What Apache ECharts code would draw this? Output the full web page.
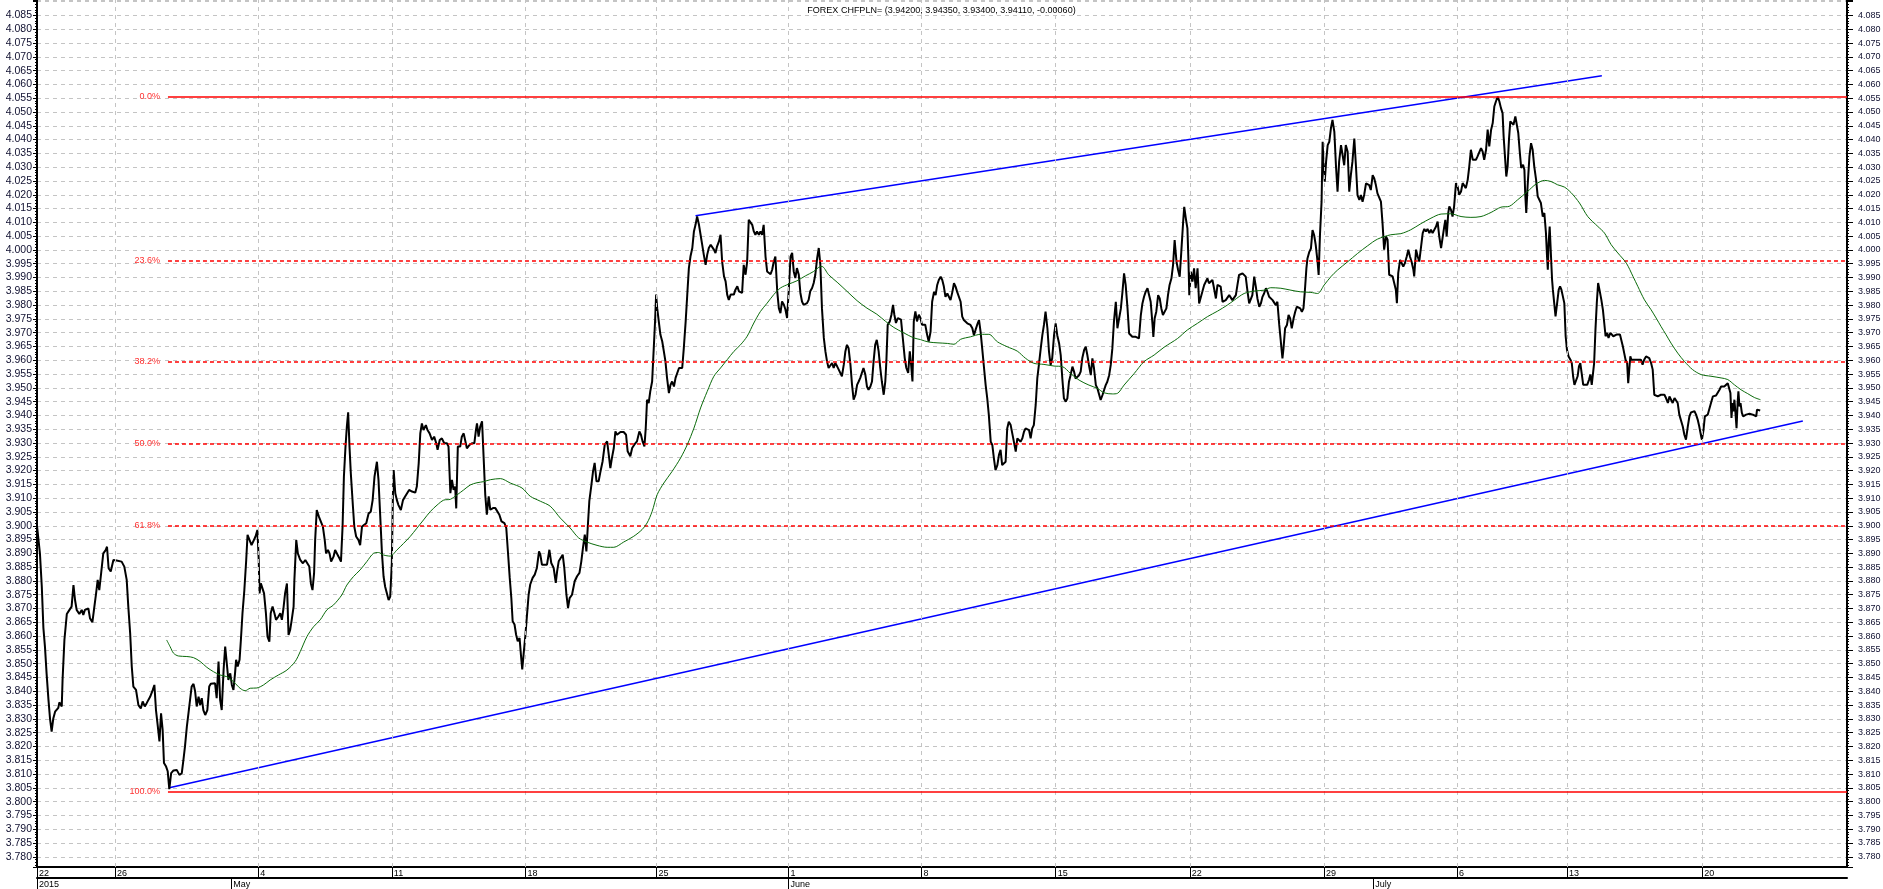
<!DOCTYPE html>
<html>
<head>
<meta charset="utf-8">
<script src="https://cdn.jsdelivr.net/npm/echarts@6/dist/echarts.min.js"></script>
<style>
html,body{margin:0;padding:0;background:#fff;}
#chart{width:1883px;height:889px;}
</style>
</head>
<body>
<div id="chart"></div>
<script>
// ---------- DATA (x = trading-day position, y = CHF/PLN) ----------
const TITLE = 'FOREX CHFPLN= (3.94200, 3.94350, 3.93400, 3.94110, -0.00060)';
const X_MAX = 68;
const Y_MIN = 3.7763, Y_MAX = 4.0906, Y_STEP = 0.005;
const dayTickPos = [0, 2.93, 8.31, 13.33, 18.35, 23.27, 28.23, 33.23, 38.27, 43.31, 48.35, 53.35, 57.48, 62.56];
const dayTickLabels = ['22','26','4','11','18','25','1','8','15','22','29','6','13','20'];
const monthPos = [0, 7.3, 28.23, 50.2];
const monthLabels = ['2015','May','June','July'];

const price = [
[0.00,3.9000],[0.11,3.8900],[0.18,3.8780],[0.24,3.8630],[0.30,3.8560],[0.36,3.8465],[0.43,3.8370],[0.49,3.8300],[0.55,3.8254],[0.61,3.8300],[0.68,3.8326],[0.80,3.8340],[0.84,3.8360],[0.93,3.8345],[0.96,3.8440],[1.03,3.8586],[1.12,3.8680],[1.22,3.8695],[1.30,3.8707],[1.37,3.8785],[1.43,3.8730],[1.49,3.8695],[1.59,3.8680],[1.68,3.8695],[1.74,3.8677],[1.80,3.8695],[1.93,3.8700],[1.99,3.8665],[2.08,3.8650],[2.14,3.8695],[2.22,3.8755],[2.28,3.8804],[2.34,3.8767],[2.41,3.8828],[2.49,3.8900],[2.58,3.8912],[2.63,3.8924],[2.69,3.8846],[2.77,3.8834],[2.82,3.8840],[2.87,3.8876],[2.99,3.8874],[3.18,3.8870],[3.28,3.8852],[3.37,3.8804],[3.43,3.8707],[3.50,3.8610],[3.56,3.8490],[3.62,3.8417],[3.72,3.8405],[3.81,3.8350],[3.90,3.8338],[3.97,3.8363],[4.05,3.8345],[4.12,3.8357],[4.25,3.8380],[4.35,3.8405],[4.41,3.8423],[4.47,3.8332],[4.54,3.8272],[4.60,3.8218],[4.66,3.8320],[4.72,3.8260],[4.77,3.8140],[4.85,3.8127],[4.91,3.8110],[4.97,3.8045],[5.04,3.8103],[5.13,3.8113],[5.25,3.8115],[5.35,3.8097],[5.44,3.8103],[5.50,3.8150],[5.56,3.8200],[5.63,3.8272],[5.69,3.8320],[5.75,3.8369],[5.81,3.8417],[5.88,3.8427],[5.94,3.8400],[6.00,3.8345],[6.07,3.8380],[6.13,3.8350],[6.19,3.8375],[6.25,3.8332],[6.32,3.8314],[6.40,3.8332],[6.47,3.8417],[6.53,3.8427],[6.69,3.8429],[6.75,3.8375],[6.82,3.8508],[6.88,3.8369],[6.94,3.8332],[7.01,3.8477],[7.07,3.8562],[7.13,3.8568],[7.19,3.8441],[7.26,3.8465],[7.32,3.8423],[7.38,3.8405],[7.44,3.8465],[7.48,3.8514],[7.54,3.8490],[7.61,3.8514],[7.66,3.8586],[7.72,3.8683],[7.79,3.8767],[7.86,3.8876],[7.91,3.8967],[7.98,3.8967],[8.06,3.8930],[8.13,3.8936],[8.21,3.8961],[8.28,3.8985],[8.33,3.8876],[8.36,3.8755],[8.41,3.8791],[8.47,3.8785],[8.53,3.8755],[8.60,3.8683],[8.66,3.8598],[8.73,3.8580],[8.78,3.8683],[8.85,3.8707],[8.92,3.8683],[8.98,3.8659],[9.07,3.8671],[9.14,3.8683],[9.20,3.8659],[9.26,3.8701],[9.32,3.8755],[9.39,3.8791],[9.45,3.8604],[9.51,3.8622],[9.57,3.8659],[9.64,3.8707],[9.67,3.8804],[9.74,3.8948],[9.80,3.8900],[9.89,3.8876],[9.99,3.8864],[10.08,3.8876],[10.14,3.8870],[10.23,3.8852],[10.29,3.8791],[10.35,3.8767],[10.41,3.8828],[10.45,3.8948],[10.51,3.9057],[10.59,3.9033],[10.66,3.9033],[10.74,3.8997],[10.81,3.8948],[10.86,3.8900],[10.93,3.8912],[10.99,3.8900],[11.05,3.8870],[11.14,3.8888],[11.20,3.8912],[11.27,3.8918],[11.33,3.8888],[11.42,3.8870],[11.48,3.8997],[11.53,3.9178],[11.59,3.9287],[11.64,3.9359],[11.69,3.9411],[11.74,3.9287],[11.79,3.9190],[11.87,3.9069],[11.92,3.8997],[11.99,3.8961],[12.08,3.8948],[12.14,3.8930],[12.21,3.8997],[12.27,3.8997],[12.37,3.9009],[12.46,3.9045],[12.54,3.9051],[12.61,3.9093],[12.68,3.9178],[12.77,3.9232],[12.83,3.9166],[12.89,3.9045],[12.96,3.8900],[13.02,3.8816],[13.08,3.8779],[13.15,3.8773],[13.21,3.8731],[13.27,3.8743],[13.33,3.8864],[13.37,3.9106],[13.40,3.9202],[13.46,3.9118],[13.52,3.9093],[13.58,3.9075],[13.67,3.9057],[13.75,3.9093],[13.83,3.9106],[13.90,3.9112],[13.98,3.9130],[14.09,3.9124],[14.21,3.9120],[14.27,3.9142],[14.34,3.9226],[14.40,3.9335],[14.46,3.9371],[14.52,3.9347],[14.61,3.9365],[14.67,3.9347],[14.75,3.9335],[14.84,3.9311],[14.92,3.9323],[15.00,3.9299],[15.05,3.9275],[15.13,3.9311],[15.21,3.9317],[15.30,3.9299],[15.40,3.9299],[15.46,3.9287],[15.53,3.9118],[15.59,3.9166],[15.65,3.9130],[15.71,3.9142],[15.75,3.9063],[15.81,3.9287],[15.90,3.9287],[15.96,3.9323],[16.03,3.9335],[16.09,3.9335],[16.15,3.9281],[16.25,3.9293],[16.34,3.9299],[16.43,3.9299],[16.49,3.9347],[16.53,3.9371],[16.59,3.9323],[16.65,3.9359],
[16.72,3.9379],[16.78,3.9246],[16.84,3.9113],[16.90,3.9040],[16.97,3.9107],[17.03,3.9058],[17.13,3.9064],[17.22,3.9064],[17.28,3.9064],[17.37,3.9040],[17.45,3.9016],[17.56,3.9010],[17.63,3.8992],[17.70,3.8895],[17.76,3.8811],[17.82,3.8738],[17.87,3.8654],[17.94,3.8642],[18.00,3.8605],[18.06,3.8581],[18.13,3.8593],[18.18,3.8533],[18.23,3.8479],[18.28,3.8533],[18.35,3.8605],[18.41,3.8678],[18.47,3.8750],[18.53,3.8787],[18.62,3.8811],[18.70,3.8823],[18.78,3.8847],[18.86,3.8907],[18.91,3.8895],[18.97,3.8859],[19.06,3.8859],[19.16,3.8859],[19.25,3.8913],[19.32,3.8865],[19.41,3.8847],[19.49,3.8793],[19.54,3.8835],[19.60,3.8871],[19.66,3.8877],[19.75,3.8895],[19.81,3.8847],[19.89,3.8750],[19.95,3.8702],[20.01,3.8738],[20.10,3.8750],[20.20,3.8799],[20.29,3.8817],[20.38,3.8829],[20.45,3.8871],[20.51,3.8919],[20.58,3.8968],[20.64,3.8907],[20.69,3.8992],[20.75,3.9089],[20.83,3.9149],[20.89,3.9197],[20.95,3.9228],[21.02,3.9161],[21.10,3.9161],[21.17,3.9197],[21.25,3.9234],[21.33,3.9294],[21.42,3.9306],[21.48,3.9258],[21.54,3.9209],[21.60,3.9246],[21.67,3.9282],[21.73,3.9342],[21.79,3.9330],[21.85,3.9336],[21.92,3.9340],[22.04,3.9340],[22.13,3.9330],[22.19,3.9270],[22.29,3.9252],[22.36,3.9282],[22.44,3.9294],[22.54,3.9306],[22.63,3.9342],[22.69,3.9330],[22.75,3.9306],[22.82,3.9288],[22.87,3.9354],[22.92,3.9457],[22.98,3.9445],[23.04,3.9487],[23.11,3.9523],[23.17,3.9517],[23.22,3.9741],[23.26,3.9838],[23.30,3.9789],[23.36,3.9741],[23.42,3.9693],[23.49,3.9668],[23.55,3.9632],[23.61,3.9596],[23.67,3.9536],[23.74,3.9481],[23.80,3.9511],[23.86,3.9523],[23.93,3.9505],[23.99,3.9536],[24.05,3.9542],[24.12,3.9572],[24.18,3.9578],[24.24,3.9572],[24.30,3.9644],[24.37,3.9741],[24.43,3.9838],[24.49,3.9934],[24.55,3.9976],[24.62,4.0007],[24.68,4.0067],[24.74,4.0091],[24.80,4.0121],[24.87,4.0091],[24.93,4.0055],[24.99,4.0019],[25.05,3.9983],[25.12,3.9946],[25.18,3.9983],[25.24,4.0007],[25.31,4.0019],[25.37,4.0013],[25.43,4.0001],[25.49,3.9989],[25.55,4.0013],[25.62,4.0031],[25.68,4.0055],[25.74,3.9958],[25.81,3.9904],[25.87,3.9886],[25.93,3.9838],[25.99,3.9819],[26.06,3.9838],[26.12,3.9832],[26.18,3.9838],[26.24,3.9856],[26.31,3.9868],[26.37,3.9850],[26.43,3.9856],[26.49,3.9844],[26.55,3.9946],[26.62,3.9910],[26.68,3.9958],[26.74,4.0109],[26.80,4.0103],[26.87,4.0091],[26.93,4.0067],[26.99,4.0055],[27.05,4.0067],[27.12,4.0055],[27.18,4.0067],[27.24,4.0055],[27.30,4.0091],[27.37,3.9976],[27.43,3.9922],[27.49,3.9916],[27.56,3.9912],[27.62,3.9928],[27.68,3.9958],[27.74,3.9976],[27.81,3.9850],[27.87,3.9789],[27.93,3.9771],[27.99,3.9813],[28.06,3.9801],[28.12,3.9783],[28.18,3.9753],[28.24,3.9850],[28.31,3.9976],[28.37,3.9989],[28.43,3.9922],[28.49,3.9898],[28.55,3.9934],[28.62,3.9910],[28.68,3.9844],[28.74,3.9813],[28.80,3.9801],[28.87,3.9795],[28.93,3.9807],[28.99,3.9819],[29.05,3.9850],[29.12,3.9862],[29.18,3.9880],[29.24,3.9910],[29.31,3.9970],[29.37,4.0007],[29.43,3.9946],[29.49,3.9789],[29.56,3.9681],[29.62,3.9632],[29.68,3.9596],[29.74,3.9572],[29.81,3.9578],[29.87,3.9590],[29.93,3.9572],[29.99,3.9590],[30.06,3.9578],[30.12,3.9566],[30.18,3.9572],[30.24,3.9542],[30.31,3.9584],[30.37,3.9632],[30.43,3.9656],[30.49,3.9644],[30.56,3.9584],[30.62,3.9511],[30.68,3.9457],[30.75,3.9475],[30.81,3.9511],[30.87,3.9523],[30.93,3.9536],[30.99,3.9542],[31.05,3.9572],[31.12,3.9548],[31.18,3.9505],[31.24,3.9493],[31.31,3.9505],[31.37,3.9523],[31.43,3.9596],[31.49,3.9656],[31.55,3.9674],[31.62,3.9632],[31.68,3.9572],[31.74,3.9523],[31.81,3.9475],[31.87,3.9523],[31.91,3.9596],[31.96,3.9729],[32.04,3.9741],[32.10,3.9765],[32.16,3.9801],[32.21,3.9765],[32.27,3.9735],[32.34,3.9753],[32.40,3.9747],[32.46,3.9747],[32.54,3.9668],[32.60,3.9608],[32.66,3.9572],[32.73,3.9554],[32.79,3.9632],[32.84,3.9584],[32.89,3.9523],[32.94,3.9741],[33.00,3.9777],[33.06,3.9741],[33.13,3.9765],[33.19,3.9753],[33.25,3.9729],[33.31,3.9735],[33.37,3.9729],[33.44,3.9693],[33.50,3.9668],
[33.57,3.9703],[33.63,3.9812],[33.70,3.9848],[33.76,3.9836],[33.82,3.9873],[33.88,3.9891],[33.95,3.9903],[34.01,3.9891],[34.07,3.9867],[34.13,3.9830],[34.20,3.9842],[34.26,3.9842],[34.32,3.9818],[34.39,3.9848],[34.45,3.9879],[34.51,3.9867],[34.57,3.9848],[34.64,3.9842],[34.70,3.9812],[34.76,3.9758],[34.82,3.9746],[34.89,3.9740],[34.95,3.9734],[35.01,3.9740],[35.07,3.9728],[35.14,3.9716],[35.20,3.9691],[35.26,3.9710],[35.32,3.9728],[35.39,3.9746],[35.45,3.9703],[35.51,3.9643],[35.58,3.9571],[35.64,3.9510],[35.70,3.9462],[35.76,3.9401],[35.83,3.9305],[35.89,3.9293],[35.95,3.9244],[36.01,3.9202],[36.08,3.9220],[36.14,3.9257],[36.20,3.9275],[36.26,3.9220],[36.33,3.9220],[36.39,3.9232],[36.45,3.9353],[36.51,3.9377],[36.58,3.9365],[36.64,3.9365],[36.70,3.9305],[36.77,3.9269],[36.83,3.9317],[36.89,3.9311],[36.95,3.9305],[37.02,3.9317],[37.08,3.9341],[37.14,3.9353],[37.20,3.9353],[37.27,3.9347],[37.33,3.9317],[37.39,3.9353],[37.45,3.9365],[37.52,3.9438],[37.58,3.9534],[37.64,3.9583],[37.71,3.9643],[37.77,3.9691],[37.83,3.9728],[37.89,3.9776],[37.96,3.9716],[38.02,3.9631],[38.08,3.9583],[38.14,3.9607],[38.21,3.9691],[38.27,3.9734],[38.33,3.9691],[38.40,3.9661],[38.46,3.9619],[38.52,3.9534],[38.58,3.9462],[38.65,3.9450],[38.71,3.9462],[38.77,3.9522],[38.83,3.9546],[38.90,3.9577],[38.96,3.9559],[39.02,3.9534],[39.08,3.9540],[39.15,3.9546],[39.21,3.9559],[39.27,3.9607],[39.34,3.9637],[39.40,3.9649],[39.46,3.9619],[39.52,3.9583],[39.59,3.9546],[39.65,3.9607],[39.71,3.9571],[39.78,3.9510],[39.84,3.9498],[39.90,3.9492],[39.96,3.9456],[40.03,3.9474],[40.09,3.9492],[40.15,3.9510],[40.21,3.9522],[40.28,3.9546],[40.34,3.9583],[40.40,3.9643],[40.46,3.9740],[40.53,3.9812],[40.59,3.9716],[40.65,3.9710],[40.72,3.9788],[40.78,3.9848],[40.84,3.9915],[40.90,3.9873],[40.97,3.9788],[41.03,3.9697],[41.09,3.9691],[41.15,3.9685],[41.22,3.9685],[41.28,3.9685],[41.34,3.9691],[41.40,3.9679],[41.47,3.9764],[41.53,3.9806],[41.59,3.9830],[41.65,3.9848],[41.72,3.9861],[41.78,3.9867],[41.84,3.9812],[41.91,3.9728],[41.94,3.9685],[41.99,3.9752],[42.05,3.9776],[42.12,3.9836],[42.18,3.9824],[42.24,3.9788],[42.30,3.9764],[42.37,3.9758],[42.43,3.9788],[42.49,3.9836],[42.55,3.9873],[42.62,3.9897],[42.68,3.9945],[42.74,4.0036],[42.81,3.9957],[42.87,3.9927],[42.93,3.9903],[42.99,3.9993],[43.06,4.0102],[43.10,4.0156],[43.16,4.0114],[43.22,4.0078],[43.26,3.9957],[43.29,3.9836],[43.35,3.9921],[43.41,3.9885],[43.47,3.9933],[43.53,3.9861],[43.60,3.9933],[43.66,3.9806],[43.72,3.9812],[43.78,3.9848],[43.85,3.9873],[43.91,3.9867],[43.97,3.9897],[44.03,3.9879],[44.10,3.9873],[44.16,3.9891],[44.22,3.9861],[44.29,3.9824],[44.35,3.9873],[44.41,3.9873],[44.47,3.9867],[44.54,3.9812],[44.60,3.9806],[44.66,3.9818],[44.72,3.9812],[44.79,3.9836],[44.85,3.9842],[44.91,3.9818],[44.98,3.9812],[45.04,3.9836],[45.10,3.9873],[45.16,3.9909],[45.23,3.9915],[45.29,3.9915],[45.35,3.9915],[45.41,3.9903],[45.48,3.9848],[45.54,3.9806],[45.60,3.9806],[45.66,3.9836],[45.73,3.9903],[45.79,3.9867],[45.85,3.9824],[45.92,3.9794],[45.98,3.9806],[46.04,3.9830],[46.10,3.9842],[46.17,3.9861],[46.23,3.9848],[46.29,3.9830],[46.35,3.9836],[46.42,3.9818],[46.48,3.9824],[46.54,3.9800],[46.60,3.9812],[46.67,3.9728],[46.73,3.9667],[46.79,3.9607],[46.83,3.9643],[46.89,3.9716],[46.96,3.9728],[47.02,3.9764],[47.08,3.9752],[47.14,3.9716],[47.21,3.9752],[47.27,3.9776],[47.33,3.9794],[47.40,3.9788],[47.46,3.9788],[47.52,3.9776],[47.58,3.9788],[47.63,3.9848],[47.69,3.9933],[47.73,3.9969],[47.80,3.9993],[47.86,4.0005],[47.92,4.0072],[47.98,4.0054],[48.04,4.0018],[48.11,3.9957],[48.15,3.9909],[48.20,4.0054],[48.26,4.0175],[48.30,4.0392],[48.33,4.0320],[48.38,4.0247],[48.43,4.0320],[48.49,4.0380],[48.55,4.0392],[48.61,4.0440],[48.67,4.0471],[48.74,4.0428],[48.80,4.0307],[48.86,4.0211],[48.92,4.0320],[48.99,4.0380],[49.05,4.0344],[49.11,4.0307],[49.17,4.0380],[49.24,4.0356],[49.30,4.0211],[49.36,4.0271],[49.42,4.0320],[49.49,4.0404],[49.55,4.0307],[49.61,4.0199],[49.68,4.0181],[49.74,4.0199],[49.80,4.0175],[49.86,4.0199],[49.93,4.0241],[49.99,4.0247],[50.05,4.0235],[50.11,4.0217],[50.18,4.0271],[50.24,4.0259],[50.30,4.0235],[50.36,4.0205],[50.43,4.0199],[50.49,4.0175],
[50.55,4.0097],[50.61,4.0001],[50.68,4.0049],[50.74,4.0037],[50.80,3.9910],[50.86,3.9904],[50.93,3.9904],[50.99,3.9898],[51.05,3.9856],[51.09,3.9807],[51.14,3.9916],[51.21,3.9964],[51.27,3.9958],[51.33,3.9940],[51.39,3.9952],[51.46,3.9976],[51.52,4.0001],[51.58,3.9976],[51.64,3.9958],[51.71,3.9928],[51.74,3.9904],[51.81,4.0001],[51.87,3.9976],[51.93,3.9958],[51.99,3.9964],[52.06,4.0061],[52.12,4.0076],[52.18,4.0067],[52.24,4.0076],[52.31,4.0061],[52.37,4.0073],[52.43,4.0061],[52.49,4.0067],[52.56,4.0085],[52.62,4.0103],[52.68,4.0049],[52.75,4.0007],[52.81,4.0007],[52.87,4.0085],[52.91,4.0109],[52.96,4.0049],[53.02,4.0134],[53.06,4.0158],[53.12,4.0146],[53.18,4.0121],[53.24,4.0158],[53.31,4.0242],[53.37,4.0230],[53.43,4.0200],[53.50,4.0212],[53.56,4.0242],[53.62,4.0236],[53.68,4.0224],[53.75,4.0254],[53.81,4.0303],[53.87,4.0363],[53.94,4.0327],[54.00,4.0333],[54.06,4.0327],[54.12,4.0339],[54.19,4.0333],[54.25,4.0369],[54.31,4.0357],[54.37,4.0327],[54.44,4.0363],[54.50,4.0436],[54.56,4.0375],[54.63,4.0436],[54.69,4.0460],[54.75,4.0520],[54.81,4.0538],[54.88,4.0556],[54.94,4.0538],[55.00,4.0514],[55.06,4.0496],[55.10,4.0411],[55.15,4.0339],[55.20,4.0266],[55.25,4.0303],[55.30,4.0399],[55.35,4.0466],[55.41,4.0472],[55.47,4.0454],[55.54,4.0484],[55.60,4.0490],[55.65,4.0424],[55.71,4.0351],[55.76,4.0297],[55.83,4.0309],[55.88,4.0291],[55.91,4.0206],[55.95,4.0134],[56.00,4.0230],[56.07,4.0339],[56.13,4.0387],[56.19,4.0363],[56.25,4.0303],[56.32,4.0254],[56.38,4.0194],[56.44,4.0200],[56.50,4.0170],[56.57,4.0121],[56.63,4.0134],[56.69,4.0061],[56.73,3.9976],[56.76,3.9928],[56.79,4.0025],[56.83,4.0085],[56.88,3.9976],[56.92,3.9892],[56.95,3.9856],[57.00,3.9807],[57.05,3.9759],[57.11,3.9807],[57.17,3.9856],[57.22,3.9868],[57.27,3.9856],[57.33,3.9850],[57.38,3.9807],[57.43,3.9687],[57.48,3.9638],[57.54,3.9614],[57.61,3.9602],[57.66,3.9590],[57.71,3.9542],[57.76,3.9511],[57.82,3.9511],[57.88,3.9542],[57.93,3.9578],[57.98,3.9590],[58.03,3.9554],[58.09,3.9511],[58.16,3.9511],[58.24,3.9511],[58.31,3.9530],[58.36,3.9548],[58.41,3.9511],[58.46,3.9511],[58.50,3.9590],[58.55,3.9711],[58.60,3.9807],[58.65,3.9880],[58.70,3.9856],[58.77,3.9820],[58.83,3.9783],[58.88,3.9735],[58.93,3.9687],[58.99,3.9699],[59.04,3.9681],[59.11,3.9699],[59.16,3.9699],[59.22,3.9687],[59.28,3.9681],[59.34,3.9693],[59.41,3.9699],[59.47,3.9693],[59.53,3.9699],[59.58,3.9650],[59.63,3.9626],[59.68,3.9602],[59.74,3.9590],[59.78,3.9517],[59.82,3.9566],[59.86,3.9614],[59.90,3.9602],[59.97,3.9596],[60.04,3.9602],[60.10,3.9596],[60.18,3.9602],[60.26,3.9602],[60.32,3.9584],[60.38,3.9602],[60.45,3.9614],[60.51,3.9614],[60.57,3.9608],[60.64,3.9590],[60.70,3.9566],[60.76,3.9475],[60.83,3.9472],[60.89,3.9469],[60.95,3.9469],[61.01,3.9475],[61.08,3.9469],[61.14,3.9475],[61.20,3.9463],[61.27,3.9445],[61.33,3.9469],[61.39,3.9457],[61.45,3.9445],[61.52,3.9463],[61.58,3.9463],[61.64,3.9445],[61.70,3.9403],[61.77,3.9397],[61.83,3.9360],[61.89,3.9330],[61.95,3.9312],[62.02,3.9360],[62.08,3.9397],[62.14,3.9411],[62.20,3.9418],[62.27,3.9415],[62.33,3.9403],[62.39,3.9385],[62.45,3.9360],[62.52,3.9324],[62.55,3.9312],[62.61,3.9348],[62.66,3.9397],[62.71,3.9397],[62.77,3.9403],[62.83,3.9409],[62.89,3.9445],[62.96,3.9469],[63.02,3.9469],[63.08,3.9472],[63.14,3.9475],[63.21,3.9493],[63.27,3.9505],[63.33,3.9511],[63.39,3.9505],[63.46,3.9511],[63.52,3.9517],[63.57,3.9523],[63.62,3.9481],[63.66,3.9391],[63.70,3.9445],[63.73,3.9415],[63.77,3.9457],[63.81,3.9409],[63.85,3.9354],[63.89,3.9445],[63.92,3.9487],[63.96,3.9433],[64.00,3.9445],[64.05,3.9409],[64.10,3.9397],[64.15,3.9403],[64.21,3.9403],[64.28,3.9403],[64.34,3.9406],[64.40,3.9403],[64.46,3.9403],[64.52,3.9403],[64.59,3.9397],[64.62,3.9421],[64.67,3.9424],[64.74,3.9418]
];

const movingAvg = [
[4.87,3.8586],[5.00,3.8562],[5.13,3.8538],[5.31,3.8528],[5.63,3.8526],[5.88,3.8522],[6.13,3.8508],[6.38,3.8487],[6.63,3.8471],[6.88,3.8459],[7.13,3.8453],[7.38,3.8435],[7.63,3.8411],[7.82,3.8402],[8.01,3.8411],[8.26,3.8412],[8.51,3.8423],[8.76,3.8441],[9.07,3.8459],[9.39,3.8477],[9.70,3.8508],[9.89,3.8544],[10.14,3.8598],[10.39,3.8634],[10.64,3.8659],[10.89,3.8695],[11.14,3.8713],[11.45,3.8749],[11.64,3.8785],[11.89,3.8816],[12.14,3.8840],[12.39,3.8870],[12.64,3.8900],[12.83,3.8903],[13.02,3.8894],[13.27,3.8890],[13.52,3.8912],[13.77,3.8936],[14.02,3.8961],[14.27,3.8991],[14.52,3.9021],[14.77,3.9051],[15.03,3.9075],[15.28,3.9093],[15.53,3.9096],[15.78,3.9112],[16.03,3.9130],[16.28,3.9148],[16.53,3.9156],
[16.78,3.9160],[17.03,3.9167],[17.41,3.9171],[17.78,3.9155],[18.22,3.9137],[18.53,3.9107],[18.91,3.9089],[19.28,3.9071],[19.66,3.9028],[20.03,3.8992],[20.35,3.8956],[20.66,3.8941],[21.04,3.8929],[21.42,3.8922],[21.67,3.8922],[22.04,3.8941],[22.42,3.8962],[22.73,3.8986],[22.92,3.9010],[23.11,3.9052],[23.30,3.9113],[23.55,3.9155],[23.86,3.9197],[24.18,3.9246],[24.43,3.9294],[24.68,3.9354],[24.93,3.9427],[25.18,3.9487],[25.43,3.9542],[25.68,3.9572],[25.93,3.9602],[26.18,3.9632],[26.43,3.9656],[26.68,3.9687],[26.93,3.9735],[27.18,3.9777],[27.43,3.9807],[27.68,3.9838],[27.93,3.9862],[28.24,3.9876],[28.55,3.9888],[28.87,3.9906],[29.18,3.9922],[29.37,3.9937],[29.49,3.9940],[29.74,3.9910],[30.06,3.9883],[30.43,3.9850],[30.81,3.9816],[31.18,3.9789],[31.55,3.9767],[31.88,3.9741],[32.19,3.9719],[32.57,3.9699],[32.94,3.9681],[33.19,3.9675],[33.50,3.9666],
[34.20,3.9661],[34.45,3.9658],[34.70,3.9676],[35.07,3.9685],[35.45,3.9694],[35.76,3.9694],[36.08,3.9667],[36.45,3.9649],[36.83,3.9633],[37.14,3.9607],[37.45,3.9589],[37.83,3.9585],[38.21,3.9579],[38.52,3.9577],[38.83,3.9552],[39.15,3.9528],[39.52,3.9510],[39.84,3.9498],[40.09,3.9482],[40.40,3.9478],[40.59,3.9480],[40.84,3.9510],[41.22,3.9552],[41.59,3.9595],[41.97,3.9619],[42.34,3.9647],[42.85,3.9679],[43.22,3.9710],[43.60,3.9734],[43.97,3.9758],[44.35,3.9778],[44.72,3.9800],[44.98,3.9818],[45.35,3.9842],[45.73,3.9851],[46.10,3.9854],[46.35,3.9863],[46.73,3.9861],[47.11,3.9854],[47.48,3.9848],[47.86,3.9846],[48.11,3.9842],[48.36,3.9873],[48.61,3.9903],[48.86,3.9927],[49.24,3.9957],[49.61,3.9987],[49.99,4.0015],[50.36,4.0039],
[50.86,4.0055],[51.24,4.0059],[51.61,4.0073],[51.99,4.0095],[52.37,4.0115],[52.75,4.0130],[53.12,4.0131],[53.50,4.0121],[53.87,4.0118],[54.25,4.0121],[54.63,4.0136],[55.00,4.0155],[55.31,4.0158],[55.63,4.0182],[56.00,4.0212],[56.32,4.0239],[56.63,4.0252],[56.88,4.0248],[57.13,4.0236],[57.38,4.0228],[57.63,4.0208],[57.95,4.0170],[58.26,4.0121],[58.64,4.0085],[58.89,4.0061],[59.14,4.0019],[59.39,3.9989],[59.71,3.9952],[59.96,3.9904],[60.14,3.9868],[60.39,3.9819],[60.64,3.9783],[60.83,3.9753],[61.01,3.9723],[61.20,3.9693],[61.39,3.9662],[61.64,3.9626],[61.89,3.9596],[62.20,3.9566],[62.52,3.9548],[62.89,3.9542],[63.27,3.9536],[63.52,3.9530],[63.77,3.9511],[64.02,3.9493],[64.27,3.9479],[64.52,3.9465],[64.75,3.9457]
];

const trendUpper = [[24.74, 4.0124], [58.79, 4.0631]];
const trendLower = [[4.97, 3.8050], [66.34, 3.9380]];
const fibHigh = 4.0557, fibLow = 3.8037, fibStart = 4.92;
const fibRatios = [0, 0.236, 0.382, 0.5, 0.618, 1];
const fibLabels = ['0.0%', '23.6%', '38.2%', '50.0%', '61.8%', '100.0%'];

// ---------- CHART ----------
const FONT = '"Liberation Sans", Arial, sans-serif';
const chart = echarts.init(document.getElementById('chart'), null, {renderer: 'canvas'});

function nearestLabel(v, pos, labels) {
  let best = 0, bd = Infinity;
  pos.forEach((p, i) => { const d = Math.abs(p - v); if (d < bd) { bd = d; best = i; } });
  return bd < 0.05 ? labels[best] : '';
}
// only labels on multiples of the step are shown
const yLabel = v => {
  const k = Math.round(v / Y_STEP);
  return (Math.abs(v - k * Y_STEP) > 1e-6 || v < 3.7795 || v > 4.0855) ? '' : v.toFixed(3);
};

function yAxis(position, opts) {
  return {
    type: 'value', min: Y_MIN, max: Y_MAX, position,
    splitNumber: 63, minInterval: Y_STEP, maxInterval: Y_STEP,
    axisLine: {show: true, onZero: false, lineStyle: {color: '#000', width: 2}},
    axisTick: {show: true, length: opts.tick, lineStyle: {color: '#000', width: 1}},
    minorTick: {show: true, splitNumber: 5, length: 2, lineStyle: {color: '#000', width: 1}},
    splitLine: {show: position === 'left', lineStyle: {color: '#c4c4c4', width: 1, type: [4, 4]}},
    minorSplitLine: {show: false},
    axisLabel: {show: true, formatter: yLabel, margin: opts.margin, fontSize: opts.font,
      fontFamily: FONT, color: '#101030', showMinLabel: true, showMaxLabel: true}
  };
}

const fibMarks = fibRatios.map((r, i) => {
  const lvl = fibHigh - (fibHigh - fibLow) * r;
  const solid = (r === 0 || r === 1);
  return [
    {coord: [fibStart, lvl], name: fibLabels[i],
     lineStyle: {color: '#ff0000', width: 1.5, type: solid ? 'solid' : [4, 3]}},
    {coord: [X_MAX, lvl]}
  ];
});

const option = {
  animation: false,
  backgroundColor: '#ffffff',
  title: {text: TITLE, left: 'center', top: 1,
    textStyle: {fontSize: 9, fontWeight: 'normal', color: '#000', fontFamily: FONT}},
  grid: {left: 37, right: 36, top: 0, bottom: 22, containLabel: false, outerBoundsMode: 'none'},
  xAxis: [{
    type: 'value', min: 0, max: X_MAX, position: 'bottom',
    axisLine: {show: true, onZero: false, lineStyle: {color: '#000', width: 2}},
    axisTick: {show: true, customValues: dayTickPos, length: 11, lineStyle: {color: '#000', width: 1}},
    axisLabel: {show: true, customValues: dayTickPos, align: 'left', margin: 2, padding: [0, 0, 0, 2],
      formatter: v => nearestLabel(v, dayTickPos, dayTickLabels), fontSize: 9, fontFamily: FONT, color: '#000'},
    splitLine: {show: false}
  }, {
    type: 'value', min: 0, max: X_MAX, position: 'bottom', offset: 11,
    axisLine: {show: true, onZero: false, lineStyle: {color: '#000', width: 2}},
    axisTick: {show: true, customValues: monthPos, length: 11, lineStyle: {color: '#000', width: 1}},
    axisLabel: {show: true, customValues: monthPos, align: 'left', margin: 2, padding: [0, 0, 0, 2],
      formatter: v => nearestLabel(v, monthPos, monthLabels), fontSize: 9, fontFamily: FONT, color: '#000'},
    splitLine: {show: false}
  }],
  yAxis: [yAxis('left', {tick: 4, margin: 5, font: 10.5}), yAxis('right', {tick: 6, margin: 11, font: 9})],
  series: [
    {
      type: 'line', name: 'vgrid', data: [], xAxisIndex: 0, yAxisIndex: 0, silent: true, z: 1,
      markLine: {silent: true, symbol: 'none', animation: false, label: {show: false},
        lineStyle: {color: '#c4c4c4', width: 1, type: [4, 4]},
        data: dayTickPos.slice(1).map(p => ({xAxis: p}))}
    },
    {
      type: 'line', name: 'fib', data: [], xAxisIndex: 0, yAxisIndex: 0, silent: true, z: 2,
      markLine: {silent: true, symbol: 'none', animation: false,
        label: {show: true, position: 'start', distance: 8, formatter: p => p.name,
          color: '#ff3030', fontSize: 9, fontFamily: FONT},
        data: fibMarks}
    },
    {
      type: 'line', name: 'upper', data: trendUpper, xAxisIndex: 0, yAxisIndex: 0, symbol: 'none',
      lineStyle: {color: '#0000ff', width: 1.5}, z: 3, silent: true
    },
    {
      type: 'line', name: 'lower', data: trendLower, xAxisIndex: 0, yAxisIndex: 0, symbol: 'none',
      lineStyle: {color: '#0000ff', width: 1.5}, z: 3, silent: true
    },
    {
      type: 'line', name: 'CHFPLN', data: price, xAxisIndex: 0, yAxisIndex: 0, symbol: 'none',
      lineStyle: {color: '#000', width: 2}, z: 4, silent: true
    },
    {
      type: 'line', name: 'MA', data: movingAvg, xAxisIndex: 0, yAxisIndex: 0, symbol: 'none', smooth: 0.3,
      lineStyle: {color: '#0b6b0b', width: 1}, z: 5, silent: true
    }
  ]
};
chart.setOption(option);
</script>
</body>
</html>
